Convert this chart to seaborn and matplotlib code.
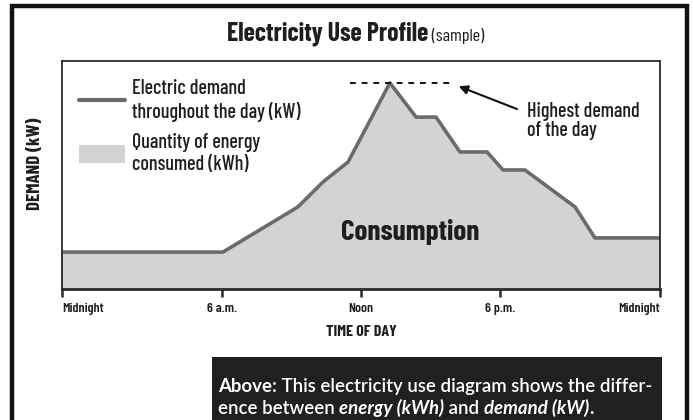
import matplotlib
matplotlib.use("Agg")
import matplotlib.pyplot as plt
from matplotlib.patches import Rectangle, Patch
from matplotlib.lines import Line2D
import seaborn as sns
import pandas as pd

# data (hours, demand on a 0-100 scale)
hours = [0, 6.46, 9.47, 10.47, 11.48, 13.16, 14.21, 15.01, 15.97, 17.06, 17.70, 18.58, 20.59, 21.39, 24]
demand = [16.2, 16.2, 36.0, 46.9, 55.7, 90.4, 75.4, 75.4, 60.1, 60.1, 52.2, 52.2, 36.0, 22.4, 22.4]
tick_hours = [0, 6.44, 12.0, 17.58, 24]
tick_labels = ["Midnight", "6 a.m.", "Noon", "6 p.m.", "Midnight"]
peak_dash = [11.56, 15.77]

df = pd.DataFrame({"hour": hours, "demand": demand})

sns.set_theme(style="white")
plt.rcParams["font.family"] = ["Barlow Condensed", "DejaVu Sans"]
CAP_FONT = ["Lato", "DejaVu Sans"]

LINE = "#6b6b6b"
FILL = "#d3d3d5"
DARK = "#2a2a2a"
TXT = "#1e1e1e"

W, H = 693, 420
fig = plt.figure(figsize=(W / 100, H / 100), dpi=100)
fig.patch.set_facecolor("white")


def fx(px):
    return px / W


def fy(py):
    return 1 - py / H


ax = fig.add_axes([fx(62), fy(289), (660 - 62) / W, (289 - 61) / H])
ax.set_facecolor("white")

ax.fill_between(df["hour"], 0, df["demand"], color=FILL, lw=0)
sns.lineplot(data=df, x="hour", y="demand", ax=ax, color=LINE, lw=2.6, sort=False)

peak = max(demand)
ax.plot(peak_dash, [peak, peak], color="#111111", lw=1.4, ls=(0, (3, 3)))

ax.annotate("Highest demand\nof the day", xy=(peak_dash[1] + 0.15, peak - 1.5),
            xytext=(49, -25), textcoords="offset points", ha="left", va="center",
            fontsize=14.5, fontweight="medium", color=TXT, linespacing=0.95,
            arrowprops=dict(arrowstyle="-|>", color="#111111", lw=1.5,
                            shrinkA=5, shrinkB=0, relpos=(0, 0.72), mutation_scale=13))

ax.text(13.97, 25, "Consumption", ha="center", va="center", fontsize=21,
        fontweight="bold", color=TXT)

ax.set_xlim(0, 24)
ax.set_ylim(0, 100)
ax.set_yticks([])
ax.set_ylabel("")
ax.set_xticks(tick_hours)
ax.set_xticklabels(tick_labels, fontsize=10, fontweight="semibold", color=TXT)
labs = ax.get_xticklabels()
labs[0].set_ha("left")
labs[-1].set_ha("right")
ax.tick_params(axis="x", length=6, width=1.8, color=DARK, direction="out", pad=4, bottom=True)
ax.set_xlabel("TIME OF DAY", fontsize=11.5, fontweight="bold", color=TXT, labelpad=7)

for side, sp in ax.spines.items():
    sp.set_visible(True)
    sp.set_color(DARK)
    sp.set_linewidth(1.3)
ax.spines["bottom"].set_linewidth(2)

handles = [Line2D([], [], color=LINE, lw=3),
           Patch(facecolor=FILL, edgecolor="none")]
labels = ["Electric demand\nthroughout the day (kW)", "Quantity of energy\nconsumed (kWh)"]
ax.legend(handles, labels, loc="upper left", bbox_to_anchor=(0.015, 0.955), frameon=False,
          prop=dict(size=14.5, weight="medium"), handlelength=2.3, handleheight=1.0,
          handletextpad=0.35, labelspacing=0.55, borderaxespad=0, labelcolor=TXT)

fig.text(fx(35), fy(164), "DEMAND (kW)", rotation=90, ha="center", va="center",
         fontsize=13.5, fontweight="bold", color=TXT)

# outer frame
fig.add_artist(Rectangle((fx(12.5), -0.05), fx(674.5), fy(6) + 0.05, transform=fig.transFigure,
                         fill=False, edgecolor="#111111", lw=3.2))

# caption box
fig.add_artist(Rectangle((fx(212), 0), fx(662 - 212), fy(357), transform=fig.transFigure,
                         facecolor="#221f1f", edgecolor="none"))

renderer = fig.canvas.get_renderer()


def run_text(x0, y, parts, **kw):
    # lay text pieces one after another on a baseline
    x = x0
    for s, style in parts:
        t = fig.text(x, y, s, ha="left", va="baseline", **kw, **style)
        bb = t.get_window_extent(renderer=renderer)
        x = bb.x1 / W


# title
run_text(fx(227), fy(41), [("Electricity Use Profile", dict(fontsize=18.5, fontweight="bold")),
                           (" (sample)", dict(fontsize=13))], color=TXT)

B = dict(fontweight="bold")
BI = dict(fontweight="bold", fontstyle="italic")
N = dict(fontweight="semibold")
run_text(fx(218), fy(392), [("Above:", B), (" This electricity use diagram shows the differ-", N)],
         fontsize=13.4, color="white", family=CAP_FONT)
run_text(fx(218), fy(414), [("ence between ", N), ("energy (kWh)", BI), (" and ", N),
                            ("demand (kW)", BI), (".", B)],
         fontsize=13.4, color="white", family=CAP_FONT)

fig.savefig("out.png", dpi=100)
